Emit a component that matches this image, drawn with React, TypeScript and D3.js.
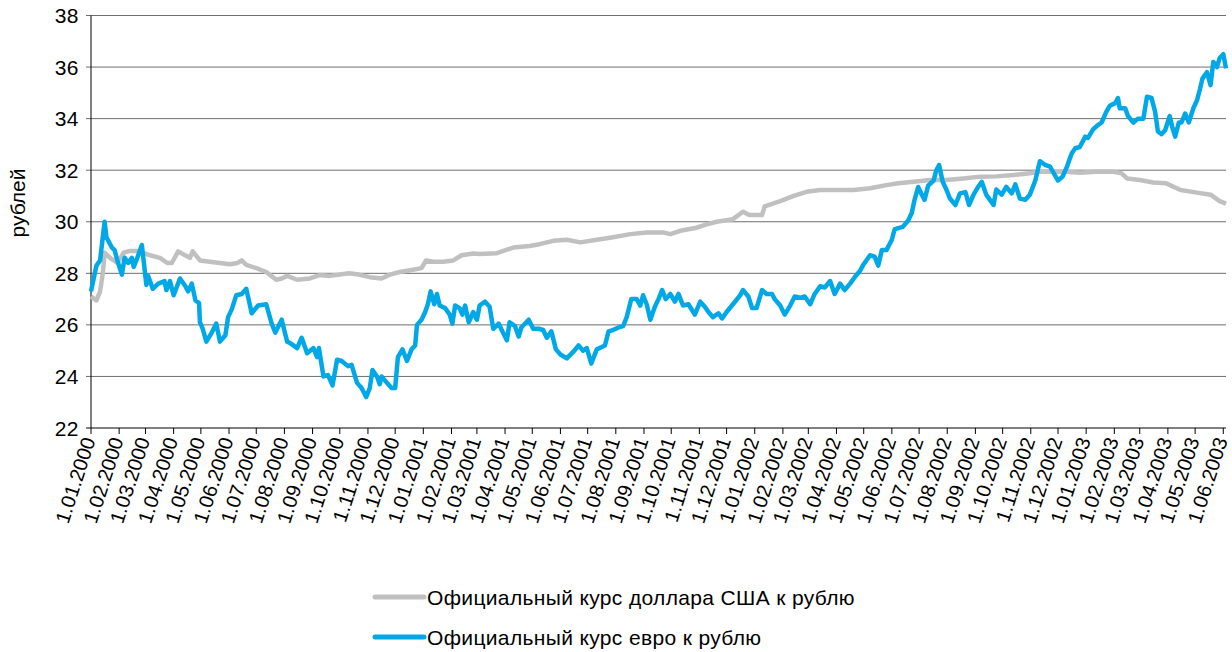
import React from "react";
import * as d3 from "d3";

// official exchange rates, rubles per unit
const usdRate: [string, number][] = [
  ["2000-01-01", 27.1], ["2000-01-07", 26.95], ["2000-01-11", 27.3], ["2000-01-14", 28.0],
  ["2000-01-16", 28.8], ["2000-01-22", 28.6], ["2000-01-30", 28.4], ["2000-02-06", 28.8],
  ["2000-02-13", 28.87], ["2000-02-21", 28.87], ["2000-02-27", 28.8], ["2000-03-06", 28.7],
  ["2000-03-17", 28.6], ["2000-03-25", 28.4], ["2000-03-30", 28.4], ["2000-04-06", 28.85],
  ["2000-04-11", 28.75], ["2000-04-19", 28.6], ["2000-04-22", 28.85], ["2000-04-30", 28.5],
  ["2000-05-11", 28.45], ["2000-05-22", 28.4], ["2000-06-02", 28.35], ["2000-06-10", 28.4],
  ["2000-06-15", 28.5], ["2000-06-20", 28.33], ["2000-07-01", 28.2], ["2000-07-12", 28.05],
  ["2000-07-23", 27.75], ["2000-07-29", 27.8], ["2000-08-04", 27.9], ["2000-08-15", 27.75],
  ["2000-08-29", 27.8], ["2000-09-09", 27.93], ["2000-09-20", 27.9], ["2000-10-01", 27.95],
  ["2000-10-11", 28.0], ["2000-10-22", 27.95], ["2000-11-03", 27.85], ["2000-11-16", 27.8],
  ["2000-11-25", 27.95], ["2000-12-06", 28.05], ["2000-12-19", 28.13], ["2000-12-30", 28.2],
  ["2001-01-04", 28.5], ["2001-01-12", 28.45], ["2001-01-23", 28.45], ["2001-02-03", 28.5],
  ["2001-02-12", 28.7], ["2001-02-25", 28.77], ["2001-03-04", 28.75], ["2001-03-23", 28.78],
  ["2001-04-10", 29.0], ["2001-04-28", 29.06], ["2001-05-09", 29.13], ["2001-05-24", 29.26],
  ["2001-06-08", 29.3], ["2001-06-23", 29.2], ["2001-07-11", 29.3], ["2001-07-29", 29.4],
  ["2001-08-17", 29.52], ["2001-09-04", 29.58], ["2001-09-23", 29.58], ["2001-09-30", 29.52],
  ["2001-10-11", 29.65], ["2001-10-29", 29.77], ["2001-11-09", 29.9], ["2001-11-20", 30.0],
  ["2001-12-08", 30.1], ["2001-12-19", 30.39], ["2001-12-26", 30.26], ["2002-01-09", 30.26],
  ["2002-01-12", 30.6], ["2002-01-29", 30.8], ["2002-02-13", 31.0], ["2002-02-27", 31.16],
  ["2002-03-14", 31.23], ["2002-04-02", 31.23], ["2002-04-20", 31.23], ["2002-05-08", 31.3],
  ["2002-05-26", 31.42], ["2002-06-08", 31.49], ["2002-06-25", 31.55], ["2002-07-13", 31.62],
  ["2002-07-31", 31.62], ["2002-08-19", 31.68], ["2002-09-06", 31.75], ["2002-09-24", 31.76],
  ["2002-10-13", 31.81], ["2002-10-31", 31.88], ["2002-11-11", 31.94], ["2002-12-11", 31.94],
  ["2002-12-25", 31.9], ["2003-01-12", 31.94], ["2003-01-31", 31.94], ["2003-02-09", 31.88],
  ["2003-02-15", 31.68], ["2003-03-01", 31.62], ["2003-03-16", 31.52], ["2003-03-30", 31.49],
  ["2003-04-15", 31.23], ["2003-05-03", 31.13], ["2003-05-18", 31.05], ["2003-05-28", 30.8],
  ["2003-06-04", 30.7],
];

const eurRate: [string, number][] = [
  ["2000-01-01", 27.3], ["2000-01-07", 28.3], ["2000-01-11", 28.5], ["2000-01-16", 30.0],
  ["2000-01-18", 29.4], ["2000-01-24", 29.0], ["2000-01-27", 28.9], ["2000-01-30", 28.5],
  ["2000-02-04", 27.95], ["2000-02-07", 28.6], ["2000-02-11", 28.4], ["2000-02-15", 28.6],
  ["2000-02-17", 28.25], ["2000-02-21", 28.6], ["2000-02-26", 29.1], ["2000-03-02", 27.55],
  ["2000-03-04", 27.9], ["2000-03-09", 27.4], ["2000-03-15", 27.6], ["2000-03-22", 27.7],
  ["2000-03-24", 27.35], ["2000-03-28", 27.7], ["2000-04-01", 27.15], ["2000-04-08", 27.8],
  ["2000-04-14", 27.5], ["2000-04-17", 27.3], ["2000-04-21", 27.6], ["2000-04-25", 26.95],
  ["2000-04-29", 26.85], ["2000-04-30", 26.1], ["2000-05-03", 25.85], ["2000-05-07", 25.35],
  ["2000-05-13", 25.7], ["2000-05-18", 26.05], ["2000-05-22", 25.35], ["2000-05-28", 25.6],
  ["2000-05-31", 26.3], ["2000-06-04", 26.6], ["2000-06-09", 27.15], ["2000-06-15", 27.2],
  ["2000-06-20", 27.4], ["2000-06-26", 26.45], ["2000-07-03", 26.75], ["2000-07-12", 26.8],
  ["2000-07-18", 26.05], ["2000-07-22", 25.7], ["2000-07-29", 26.2], ["2000-08-04", 25.35],
  ["2000-08-07", 25.3], ["2000-08-15", 25.1], ["2000-08-20", 25.5], ["2000-08-26", 24.9],
  ["2000-09-02", 25.1], ["2000-09-06", 24.75], ["2000-09-08", 25.1], ["2000-09-13", 24.0],
  ["2000-09-18", 24.05], ["2000-09-23", 23.65], ["2000-09-28", 24.65], ["2000-10-03", 24.6],
  ["2000-10-10", 24.4], ["2000-10-14", 24.45], ["2000-10-20", 23.75], ["2000-10-25", 23.55],
  ["2000-10-30", 23.2], ["2000-11-03", 23.55], ["2000-11-06", 24.25], ["2000-11-11", 24.0],
  ["2000-11-14", 23.7], ["2000-11-16", 24.0], ["2000-11-22", 23.75], ["2000-11-27", 23.55],
  ["2000-12-01", 23.55], ["2000-12-04", 24.75], ["2000-12-09", 25.05], ["2000-12-14", 24.6],
  ["2000-12-19", 25.05], ["2000-12-23", 25.2], ["2000-12-25", 26.0], ["2000-12-30", 26.2],
  ["2001-01-03", 26.5], ["2001-01-06", 26.8], ["2001-01-09", 27.3], ["2001-01-13", 26.8],
  ["2001-01-16", 27.2], ["2001-01-19", 26.75], ["2001-01-25", 26.65], ["2001-01-30", 26.4],
  ["2001-02-02", 26.05], ["2001-02-05", 26.75], ["2001-02-10", 26.65], ["2001-02-13", 26.4],
  ["2001-02-16", 26.75], ["2001-02-20", 26.1], ["2001-02-25", 26.5], ["2001-03-01", 26.2],
  ["2001-03-04", 26.75], ["2001-03-10", 26.9], ["2001-03-15", 26.7], ["2001-03-19", 25.85],
  ["2001-03-25", 26.05], ["2001-03-29", 25.75], ["2001-04-03", 25.4], ["2001-04-06", 26.1],
  ["2001-04-12", 25.95], ["2001-04-16", 25.55], ["2001-04-19", 25.9], ["2001-04-27", 26.2],
  ["2001-05-02", 25.85], ["2001-05-08", 25.85], ["2001-05-13", 25.8], ["2001-05-17", 25.5],
  ["2001-05-22", 25.75], ["2001-05-27", 25.05], ["2001-06-01", 24.85], ["2001-06-08", 24.7],
  ["2001-06-15", 24.95], ["2001-06-21", 25.2], ["2001-06-26", 25.0], ["2001-06-30", 25.1],
  ["2001-07-05", 24.5], ["2001-07-11", 25.05], ["2001-07-20", 25.2], ["2001-07-24", 25.75],
  ["2001-07-29", 25.8], ["2001-08-04", 25.9], ["2001-08-09", 25.95], ["2001-08-13", 26.3],
  ["2001-08-18", 27.0], ["2001-08-24", 27.0], ["2001-08-28", 26.75], ["2001-08-31", 27.15],
  ["2001-09-04", 26.8], ["2001-09-08", 26.2], ["2001-09-13", 26.7], ["2001-09-17", 27.0],
  ["2001-09-21", 27.35], ["2001-09-25", 27.0], ["2001-09-30", 27.2], ["2001-10-05", 26.9],
  ["2001-10-09", 27.2], ["2001-10-14", 26.75], ["2001-10-20", 26.8], ["2001-10-27", 26.4],
  ["2001-11-02", 26.9], ["2001-11-07", 26.7], ["2001-11-11", 26.5], ["2001-11-16", 26.3],
  ["2001-11-22", 26.45], ["2001-11-26", 26.25], ["2001-12-01", 26.5], ["2001-12-08", 26.8],
  ["2001-12-16", 27.15], ["2001-12-19", 27.35], ["2001-12-25", 27.1], ["2001-12-29", 26.65],
  ["2002-01-03", 26.65], ["2002-01-09", 27.35], ["2002-01-14", 27.2], ["2002-01-20", 27.2],
  ["2002-01-23", 27.0], ["2002-01-29", 26.75], ["2002-02-03", 26.4], ["2002-02-09", 26.75],
  ["2002-02-14", 27.1], ["2002-02-20", 27.05], ["2002-02-25", 27.1], ["2002-03-03", 26.8],
  ["2002-03-08", 27.2], ["2002-03-14", 27.5], ["2002-03-19", 27.45], ["2002-03-25", 27.7],
  ["2002-03-30", 27.2], ["2002-04-05", 27.6], ["2002-04-10", 27.35], ["2002-04-16", 27.6],
  ["2002-04-21", 27.85], ["2002-04-27", 28.1], ["2002-04-30", 28.3], ["2002-05-08", 28.7],
  ["2002-05-13", 28.65], ["2002-05-17", 28.3], ["2002-05-21", 28.9], ["2002-05-26", 28.9],
  ["2002-06-01", 29.3], ["2002-06-04", 29.7], ["2002-06-08", 29.75], ["2002-06-13", 29.8],
  ["2002-06-19", 30.05], ["2002-06-23", 30.35], ["2002-06-26", 30.85], ["2002-06-30", 31.35],
  ["2002-07-04", 31.05], ["2002-07-07", 30.85], ["2002-07-11", 31.4], ["2002-07-17", 31.6],
  ["2002-07-20", 32.0], ["2002-07-23", 32.2], ["2002-07-27", 31.55], ["2002-07-31", 31.25],
  ["2002-08-04", 30.9], ["2002-08-10", 30.65], ["2002-08-15", 31.1], ["2002-08-21", 31.15],
  ["2002-08-25", 30.65], ["2002-08-30", 31.05], ["2002-09-04", 31.35], ["2002-09-08", 31.55],
  ["2002-09-13", 31.05], ["2002-09-17", 30.85], ["2002-09-21", 30.65], ["2002-09-24", 31.25],
  ["2002-09-30", 31.05], ["2002-10-05", 31.35], ["2002-10-11", 31.1], ["2002-10-15", 31.45],
  ["2002-10-20", 30.9], ["2002-10-26", 30.85], ["2002-10-31", 31.05], ["2002-11-06", 31.6],
  ["2002-11-11", 32.35], ["2002-11-17", 32.2], ["2002-11-22", 32.15], ["2002-11-26", 31.9],
  ["2002-12-01", 31.6], ["2002-12-06", 31.75], ["2002-12-11", 32.15], ["2002-12-16", 32.65],
  ["2002-12-20", 32.85], ["2002-12-25", 32.9], ["2002-12-31", 33.3], ["2003-01-03", 33.25],
  ["2003-01-09", 33.6], ["2003-01-14", 33.75], ["2003-01-18", 33.85], ["2003-01-23", 34.25],
  ["2003-01-27", 34.5], ["2003-02-02", 34.6], ["2003-02-05", 34.8], ["2003-02-07", 34.4],
  ["2003-02-13", 34.4], ["2003-02-16", 34.1], ["2003-02-22", 33.85], ["2003-02-27", 34.0],
  ["2003-03-05", 34.0], ["2003-03-09", 34.85], ["2003-03-14", 34.8], ["2003-03-18", 34.25],
  ["2003-03-21", 33.5], ["2003-03-25", 33.4], ["2003-03-29", 33.55], ["2003-04-03", 34.1],
  ["2003-04-06", 33.65], ["2003-04-09", 33.3], ["2003-04-13", 33.85], ["2003-04-16", 33.85],
  ["2003-04-20", 34.2], ["2003-04-24", 33.85], ["2003-04-29", 34.4], ["2003-05-03", 34.7],
  ["2003-05-06", 35.1], ["2003-05-09", 35.55], ["2003-05-14", 35.8], ["2003-05-18", 35.3],
  ["2003-05-21", 36.2], ["2003-05-25", 36.0], ["2003-05-28", 36.35], ["2003-06-01", 36.5],
  ["2003-06-04", 35.95],
];

const yTicks = [22, 24, 26, 28, 30, 32, 34, 36, 38];
const seriesNames = [
  "Официальный курс доллара США к рублю",
  "Официальный курс евро к рублю",
];
const seriesColors = ["#c0c0c0", "#00a8e8"];
const yLabel = "рублей";

const W = 1232;
const H = 652;
const FONT = "'Liberation Sans', Arial, Helvetica, sans-serif";

const parse = d3.timeParse("%Y-%m-%d");

export default function App() {
  const x = d3
    .scaleTime()
    .domain([parse("2000-01-01")!, parse("2003-06-04")!])
    .range([91, 1226]);
  const y = d3.scaleLinear().domain([22, 38]).range([428, 15.5]);

  const line = d3
    .line<[string, number]>()
    .x((d) => x(parse(d[0])!))
    .y((d) => y(d[1]));

  const months = d3.timeMonth.range(parse("2000-01-01")!, parse("2003-06-02")!);
  const fmt = d3.timeFormat("%-d.%m.%Y");

  return (
    <div style={{ position: "absolute", left: 0, top: 0 }}>
      <svg width={W} height={H} style={{ display: "block", background: "#fff" }}>
        {/* grid */}
        {yTicks.map((t) => (
          <g key={t}>
            <line x1={86} x2={1226} y1={y(t)} y2={y(t)} stroke={t === 22 ? "#000" : "#6e6e6e"} strokeWidth={1} />
            <text
              x={79}
              y={y(t)}
              dy="0.36em"
              textAnchor="end"
              fontFamily={FONT}
              fontSize={21}
              letterSpacing={0.5}
              fill="#000"
            >
              {t}
            </text>
          </g>
        ))}
        <line x1={91} x2={91} y1={15.5} y2={428} stroke="#000" />
        {months.map((m, i) => (
          <g key={i} transform={`translate(${x(m)},428)`}>
            <line y1={0} y2={6} stroke="#000" />
            <text
              transform="translate(-2,10) rotate(-72)"
              textAnchor="end"
              dy="0.35em"
              fontFamily={FONT}
              fontSize={20}
              fill="#000"
            >
              {fmt(m)}
            </text>
          </g>
        ))}
        <text
          transform="translate(25,203) rotate(-90)"
          textAnchor="middle"
          fontFamily={FONT}
          fontSize={21}
          fill="#000"
        >
          {yLabel}
        </text>

        <path d={line(usdRate) || ""} fill="none" stroke={seriesColors[0]} strokeWidth={4.5} strokeLinejoin="round" />
        <path d={line(eurRate) || ""} fill="none" stroke={seriesColors[1]} strokeWidth={4.5} strokeLinejoin="round" />

        {/* legend */}
        {seriesNames.map((name, i) => (
          <g key={name} transform={`translate(0,${597 + i * 40})`}>
            <line x1={375} x2={424} stroke={seriesColors[i]} strokeWidth={5} strokeLinecap="round" />
            <text x={427} dy="0.36em" fontFamily={FONT} fontSize={21} letterSpacing={0.35} fill="#000">
              {name}
            </text>
          </g>
        ))}
      </svg>
    </div>
  );
}
